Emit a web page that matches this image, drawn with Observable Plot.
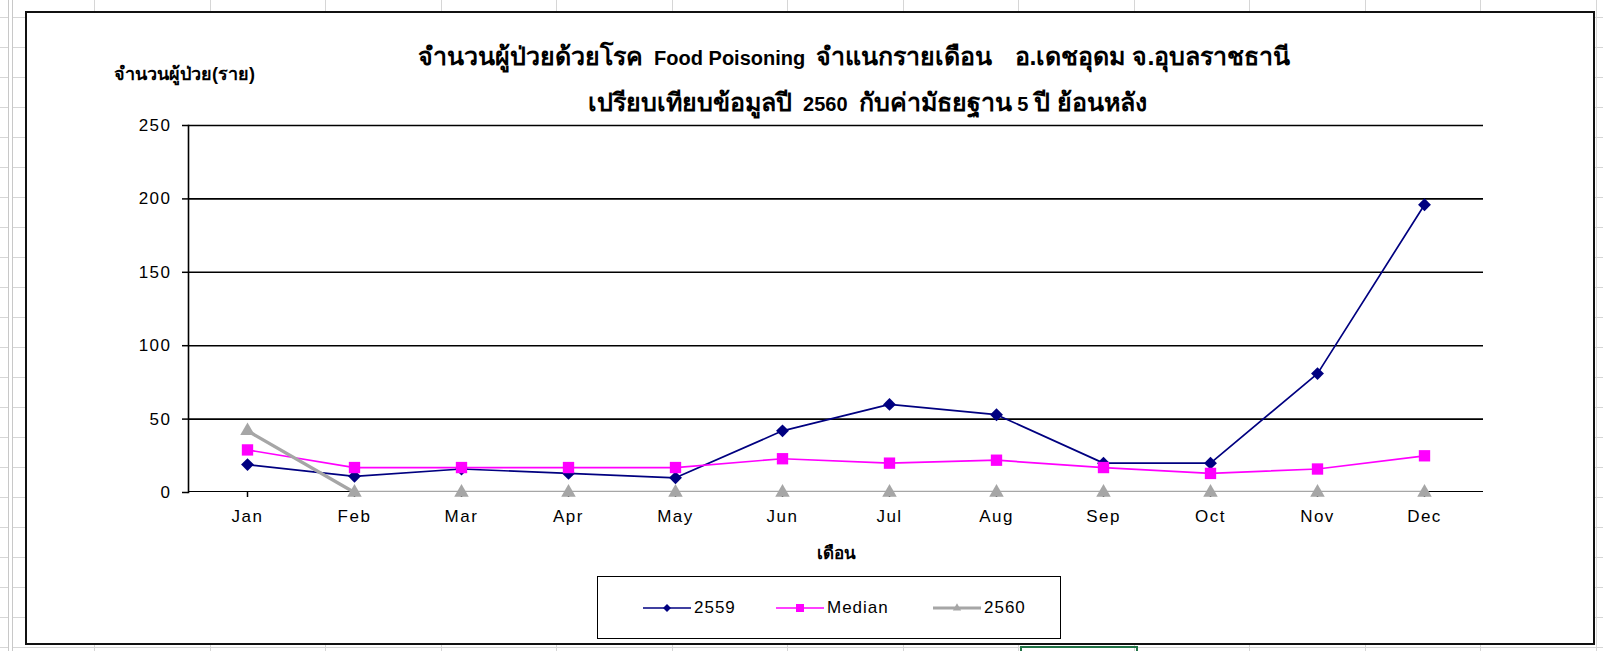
<!DOCTYPE html>
<html>
<head>
<meta charset="utf-8">
<script src="https://cdn.jsdelivr.net/npm/d3@7"></script>
<script src="https://cdn.jsdelivr.net/npm/@observablehq/plot@0.6"></script>
<style>
  html, body { margin: 0; padding: 0; }
  body {
    width: 1603px; height: 651px; overflow: hidden; position: relative;
    background-color: #fff;
    background-image:
      repeating-linear-gradient(to right, transparent 0, transparent 94px, #d6d6d6 94px, #d6d6d6 95px, transparent 95px, transparent 115.5px),
      repeating-linear-gradient(to bottom, transparent 0, transparent 17px, #d6d6d6 17px, #d6d6d6 18px, transparent 18px, transparent 30px);
    font-family: "Liberation Sans", Arial, sans-serif;
  }
  .rowhdr { position: absolute; left: 8px; top: 0; width: 3px; height: 651px; border-left: 1px solid #c8c8c8; border-right: 1px solid #c8c8c8; background: #fff; }
  #chart { position: absolute; left: 25px; top: 11px; width: 1570px; height: 634px; box-sizing: border-box; border: 2px solid #111; background: #fff; }
  .abs { position: absolute; }
  .title { font-weight: bold; white-space: pre; line-height: 30px; height: 30px; color: #000; }
  .title .th { font-size: 25px; }
  .title .lat { font-size: 20px; font-family: "Liberation Sans", Arial, sans-serif; }
  .ylab { left: 114px; top: 60px; font-weight: bold; font-size: 18px; line-height: 28px; white-space: pre; color: #000; }
  .xlab { left: 786px; width: 100px; text-align: center; top: 539px; font-weight: bold; font-size: 17px; color: #000; }
  #plot { position: absolute; left: 0; top: 110px; }
  #legend { position: absolute; left: 597px; top: 576px; width: 464px; height: 63px; box-sizing: border-box; border: 1.5px solid #000; background: #fff; }
  .litem { position: absolute; top: 20px; height: 22px; display: flex; align-items: center; font-size: 17px; letter-spacing: 1px; color: #000; }
  .litem svg { margin-right: 3px; }
  #sel { position: absolute; left: 1020px; top: 646px; width: 118px; height: 8px; border: 2px solid #217346; box-sizing: border-box; }
</style>
</head>
<body>
<div class="rowhdr"></div>
<div id="sel"></div>
<div id="chart"></div>
<div class="abs title" id="t1" style="top:41px; left:418px"><span class="th">จำนวนผู้ป่วยด้วยโรค</span><span class="lat">  Food Poisoning  </span><span class="th">จำแนกรายเดือน</span><span class="lat">    </span><span class="th">อ.เดชอุดม จ.อุบลราชธานี</span></div>
<div class="abs title" id="t2" style="top:87px; left:588px"><span class="th">เปรียบเทียบข้อมูลปี</span><span class="lat">  2560  </span><span class="th">กับค่ามัธยฐาน</span><span class="lat"> 5 </span><span class="th">ปี ย้อนหลัง</span></div>
<div class="abs ylab">จำนวนผู้ป่วย(ราย)</div>
<div id="plot"></div>
<div class="abs xlab">เดือน</div>
<div id="legend"></div>
<script>
const months = ["Jan","Feb","Mar","Apr","May","Jun","Jul","Aug","Sep","Oct","Nov","Dec"];
const values2559 = [19, 11, 16, 13, 10, 42, 60, 53, 20, 20, 81, 196];
const valuesMedian = [29, 17, 17, 17, 17, 23, 20, 22, 17, 13, 16, 25];
const values2560 = [42, 0, 0, 0, 0, 0, 0, 0, 0, 0, 0, 0];
const yTicks = [0, 50, 100, 150, 200, 250];
const seriesNames = ["2559", "Median", "2560"];
const seriesColors = ["#000080", "#ff00ff", "#a6a6a6"];
const seriesSymbols = ["diamond2", "square", "triangle"];

const toRows = (vals) => months.map((m, i) => ({month: m, value: vals[i]}));
const d2559 = toRows(values2559);
const dMedian = toRows(valuesMedian);
const d2560 = toRows(values2560);

const chart = Plot.plot({
  width: 1603,
  height: 470,
  marginLeft: 188,
  marginRight: 120,
  marginTop: 15,
  marginBottom: 88,
  style: {fontFamily: "'Liberation Sans', Arial, sans-serif", fontSize: "17px", letterSpacing: "1.5px", color: "#000", background: "transparent", overflow: "visible"},
  x: {type: "point", domain: months, padding: 0.5, label: null},
  y: {domain: [0, 250], ticks: yTicks, label: null},
  marks: [
    Plot.ruleY(yTicks.filter(d => d > 0), {stroke: "#000", strokeWidth: 1.6}),
    Plot.frame({anchor: "left", stroke: "#000", strokeWidth: 1.6}),
    Plot.ruleY([0], {stroke: "#000", strokeWidth: 3, clip: true}),
    Plot.axisY({ticks: yTicks, tickSize: 6, tickPadding: 11, strokeWidth: 1.5, label: null}),
    Plot.axisX({tickSize: 5, tickPadding: 12, strokeWidth: 1.5, label: null}),
    Plot.line(d2559, {x: "month", y: "value", stroke: seriesColors[0], strokeWidth: 1.7}),
    Plot.dot(d2559, {x: "month", y: "value", symbol: seriesSymbols[0], r: 5.8, fill: seriesColors[0]}),
    Plot.line(dMedian, {x: "month", y: "value", stroke: seriesColors[1], strokeWidth: 1.7}),
    Plot.dot(dMedian, {x: "month", y: "value", symbol: seriesSymbols[1], r: 6.4, fill: seriesColors[1]}),
    Plot.line(d2560, {x: "month", y: "value", stroke: seriesColors[2], strokeWidth: 3.4, clip: true}),
    Plot.dot(d2560, {x: "month", y: "value", symbol: seriesSymbols[2], r: 5.4, fill: seriesColors[2]})
  ]
});
document.getElementById("plot").appendChild(chart);

// legend
const legend = document.getElementById("legend");
const legendX = [45, 178, 335];
seriesNames.forEach((name, i) => {
  const item = document.createElement("div");
  item.className = "litem";
  item.style.left = legendX[i] + "px";
  const sym = d3.symbol().type(i === 0 ? d3.symbolDiamond2 : i === 1 ? d3.symbolSquare : d3.symbolTriangle).size(i === 0 ? 40 : i === 1 ? 64 : 30)();
  item.innerHTML = `<svg width="48" height="14"><line x1="0" x2="48" y1="7" y2="7" stroke="${seriesColors[i]}" stroke-width="${i === 2 ? 3 : 1.6}"/><path transform="translate(24,7)" d="${sym}" fill="${seriesColors[i]}"/></svg><span>${name}</span>`;
  legend.appendChild(item);
});
</script>
</body>
</html>
